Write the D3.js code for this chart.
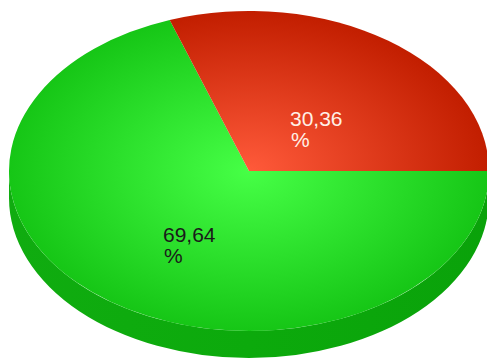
<!DOCTYPE html>
<html>
<head>
<meta charset="utf-8">
<script src="https://cdn.jsdelivr.net/npm/d3@7"></script>
<style>
  html, body { margin: 0; padding: 0; background: #ffffff; }
  svg { display: block; }
</style>
</head>
<body>
<script>
// Share of each slice (percent)
const categories = ["A", "B"];
const values = [69.64, 30.36];
const labels = ["69,64", "30,36"];

const width = 487, height = 358;
const cx = 249, cy = 171;      // centre of the top face
const rx = 240, ry = 160;      // ellipse radii of the top face
const depth = 27;              // thickness of the disc
const R = 100;                 // unit radius used for the arcs before squashing

const topColors = [
  { inner: "#46ff46", outer: "#16c616" },
  { inner: "#ff5a3a", outer: "#c21e00" }
];
const labelColors = ["#1a1a1a", "#fff0e6"];

const svg = d3.select("body").append("svg")
  .attr("width", width).attr("height", height);

const defs = svg.append("defs");
topColors.forEach((c, i) => {
  const g = defs.append("radialGradient")
    .attr("id", "top" + i)
    .attr("gradientUnits", "userSpaceOnUse")
    .attr("cx", 0).attr("cy", 0).attr("r", R);
  g.append("stop").attr("offset", "0%").attr("stop-color", c.inner);
  g.append("stop").attr("offset", "100%").attr("stop-color", c.outer);
});
const sideGrad = defs.append("linearGradient").attr("id", "side")
  .attr("x1", 0).attr("x2", 1).attr("y1", 0).attr("y2", 0);
sideGrad.append("stop").attr("offset", "0%").attr("stop-color", "#10ac10");
sideGrad.append("stop").attr("offset", "50%").attr("stop-color", "#0caa0c");
sideGrad.append("stop").attr("offset", "100%").attr("stop-color", "#0aa20a");

// Slices start at three o'clock and run clockwise
const pie = d3.pie().sort(null)
  .startAngle(Math.PI / 2).endAngle(Math.PI / 2 + 2 * Math.PI);
const arcs = pie(values);

// Ellipse projection of the unit circle onto the page
const sx = d3.scaleLinear().domain([-R, R]).range([cx - rx, cx + rx]);
const sy = d3.scaleLinear().domain([-R, R]).range([cy - ry, cy + ry]);

// Front wall of the disc (lower half of the rim)
const sidePath = `M${sx(-R)},${sy(0)} A${rx},${ry} 0 0 0 ${sx(R)},${sy(0)} ` +
  `L${sx(R)},${sy(0) + depth} A${rx},${ry} 0 0 1 ${sx(-R)},${sy(0) + depth} Z`;
svg.append("path").attr("d", sidePath).attr("fill", "url(#side)");

// Top face
const arc = d3.arc().innerRadius(0).outerRadius(R);
const face = svg.append("g")
  .attr("transform", `translate(${cx},${cy}) scale(${rx / R},${ry / R})`);
face.selectAll("path.slice").data(arcs).join("path")
  .attr("class", "slice")
  .attr("d", arc)
  .attr("fill", (d, i) => `url(#top${i})`);

// Labels inside each slice
const labelPos = [[163, 242], [290, 126]];
const lbl = svg.append("g")
  .attr("font-family", "'Liberation Sans', Arial, sans-serif")
  .attr("font-size", 21);
arcs.forEach((d, i) => {
  const [x, y] = labelPos[i];
  const t = lbl.append("text")
    .attr("x", x).attr("y", y)
    .attr("fill", labelColors[i]);
  t.append("tspan").attr("x", x).text(labels[i]);
  t.append("tspan").attr("x", x + 1).attr("dy", 21).text("%");
});
</script>
</body>
</html>
